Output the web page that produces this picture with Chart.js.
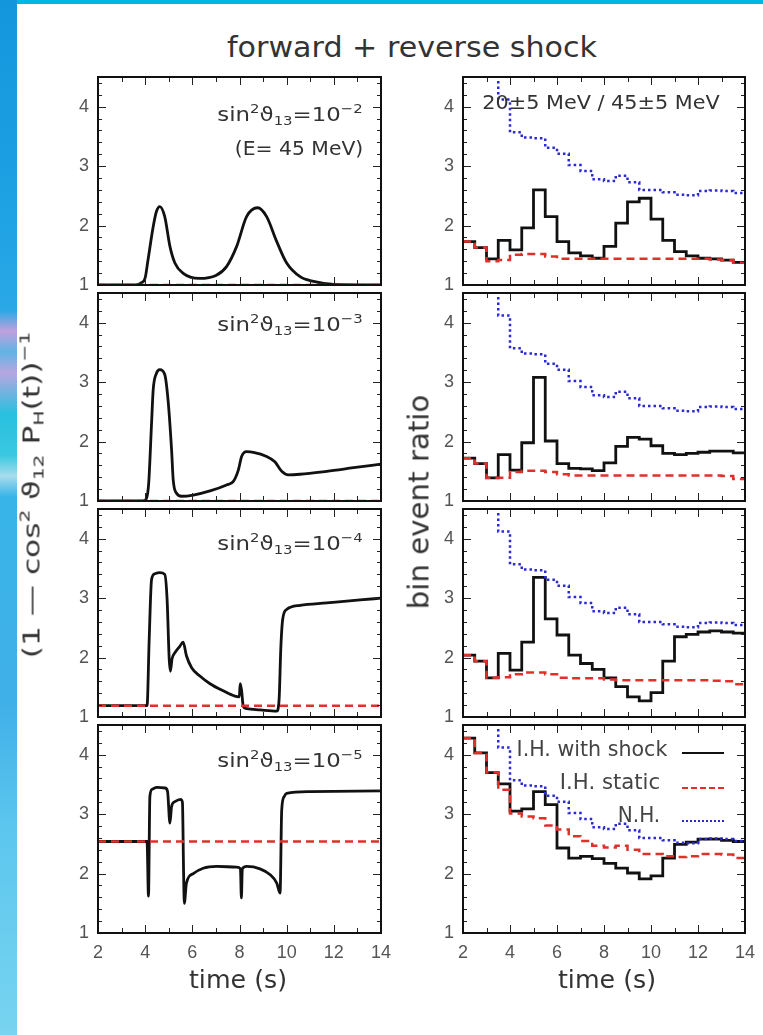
<!DOCTYPE html>
<html>
<head>
<meta charset="utf-8">
<script src="https://cdn.jsdelivr.net/npm/chart.js@4"></script>
<style>
  html, body { margin: 0; padding: 0; background: #fff; }
  #page { position: relative; width: 763px; height: 1035px; overflow: hidden; background: #fff;
          font-family: "DejaVu Sans", "Liberation Sans", sans-serif; color: #333; }
  #topband { position: absolute; left: 0; top: 0; width: 763px; height: 4px; background: #00b6e2; }
  #strip { position: absolute; left: 0; top: 0; width: 17px; height: 1035px;
    background: linear-gradient(to bottom, #1496dc 0%, #1ea2e4 20%, #2aa8e6 30%, #c0a0dc 32%, #60b4e4 34%,
      #b8a6e0 36%, #28c0e0 40%, #3ac8e0 44%, #a8dcec 46%, #38b4e8 48%, #40b0e8 68%, #5cc6ee 80%, #78d4f0 100%); }
  canvas { position: absolute; }
  .fit { position: absolute; white-space: nowrap; line-height: 1; transform: translate(-50%, -50%); }
  .fit sup { font-size: 0.65em; vertical-align: 0.65em; line-height: 0; }
  .fit sub { font-size: 0.65em; vertical-align: -0.3em; line-height: 0; }
  .sample { position: absolute; width: 42px; height: 0; }
</style>
</head>
<body>
<div id="page">
  <div id="topband"></div>
  <div id="strip"></div>

  <div class="fit" data-w="370" style="left:412px; top:48px; font-size:28px; color:#333;">forward + reverse shock</div>

  <canvas id="l1" width="370" height="232" style="left:30px; top:65px;"></canvas>
  <canvas id="l2" width="370" height="232" style="left:30px; top:281px;"></canvas>
  <canvas id="l3" width="370" height="232" style="left:30px; top:497px;"></canvas>
  <canvas id="l4" width="370" height="264" style="left:30px; top:713px;"></canvas>
  <canvas id="r1" width="370" height="232" style="left:393px; top:65px;"></canvas>
  <canvas id="r2" width="370" height="232" style="left:393px; top:281px;"></canvas>
  <canvas id="r3" width="370" height="232" style="left:393px; top:497px;"></canvas>
  <canvas id="r4" width="370" height="264" style="left:393px; top:713px;"></canvas>

  <div class="fit" data-w="145" style="left:290px; top:114px; font-size:20px;">sin<sup>2</sup>ϑ<sub>13</sub>=10<sup>−2</sup></div>
  <div class="fit" data-w="128" style="left:299px; top:148px; font-size:20px;">(E= 45 MeV)</div>
  <div class="fit" data-w="145" style="left:290px; top:324px; font-size:20px;">sin<sup>2</sup>ϑ<sub>13</sub>=10<sup>−3</sup></div>
  <div class="fit" data-w="145" style="left:290px; top:543px; font-size:20px;">sin<sup>2</sup>ϑ<sub>13</sub>=10<sup>−4</sup></div>
  <div class="fit" data-w="145" style="left:290px; top:760px; font-size:20px;">sin<sup>2</sup>ϑ<sub>13</sub>=10<sup>−5</sup></div>
  <div class="fit" data-w="238" style="left:601px; top:102px; font-size:20px;">20±5 MeV / 45±5 MeV</div>

  <div class="fit" data-w="151" style="left:592px; top:749px; font-size:21px; color:#444;">I.H. with shock</div>
  <div class="fit" data-w="100" style="left:610px; top:782px; font-size:21px; color:#444;">I.H. static</div>
  <div class="fit" data-w="42" style="left:639px; top:815px; font-size:21px; color:#444;">N.H.</div>
  <div class="sample" style="left:682px; top:752px; border-top:2.5px solid #111;"></div>
  <div class="sample" style="left:682px; top:787px; border-top:2.5px dashed #e0302a;"></div>
  <div class="sample" style="left:682px; top:820px; border-top:2.5px dotted #2a2ad0;"></div>

  <div class="fit" data-w="326" data-rot="-90" style="left:32px; top:495px; font-size:23px;">(1 — cos<sup>2</sup> ϑ<sub>12</sub> P<sub>H</sub>(t))<sup>−1</sup></div>
  <div class="fit" data-w="215" data-rot="-90" style="left:419px; top:502px; font-size:29px;">bin event ratio</div>

  <div class="fit" data-w="98" style="left:238px; top:980px; font-size:24px;">time (s)</div>
  <div class="fit" data-w="98" style="left:607px; top:980px; font-size:24px;">time (s)</div>
</div>

<script>
// time bins of the histograms (left edges, 0.5 s wide), last edge at 14 s
const binStart = [2, 2.5, 3, 3.5, 4, 4.5, 5, 5.5, 6, 6.5, 7, 7.5, 8, 8.5, 9, 9.5, 10, 10.5, 11, 11.5, 12, 12.5, 13, 13.5];
const binEnd = 14;

// right column: bin event ratio, 20±5 MeV / 45±5 MeV
const shock1 = [1.73, 1.63, 1.44, 1.75, 1.59, 1.96, 2.60, 2.15, 1.73, 1.54, 1.49, 1.45, 1.65, 2.04, 2.40, 2.46, 2.11, 1.75, 1.56, 1.49, 1.45, 1.44, 1.42, 1.38];
const static1 = [1.73, 1.63, 1.40, 1.42, 1.51, 1.52, 1.52, 1.48, 1.44, 1.44, 1.44, 1.44, 1.44, 1.44, 1.44, 1.44, 1.44, 1.44, 1.44, 1.44, 1.44, 1.43, 1.42, 1.38];
const shock2 = [1.72, 1.63, 1.39, 1.78, 1.52, 1.98, 3.08, 2.01, 1.63, 1.55, 1.54, 1.51, 1.64, 1.92, 2.07, 2.04, 1.93, 1.80, 1.78, 1.80, 1.82, 1.84, 1.84, 1.81];
const static2 = [1.72, 1.63, 1.39, 1.39, 1.49, 1.51, 1.51, 1.49, 1.45, 1.43, 1.43, 1.43, 1.43, 1.43, 1.43, 1.43, 1.43, 1.43, 1.43, 1.43, 1.43, 1.43, 1.42, 1.37];
const shock3 = [2.04, 1.94, 1.66, 2.07, 1.79, 2.26, 3.35, 2.65, 2.38, 2.04, 1.90, 1.80, 1.66, 1.51, 1.34, 1.27, 1.41, 1.94, 2.35, 2.39, 2.43, 2.45, 2.43, 2.41];
const static3 = [2.04, 1.94, 1.66, 1.67, 1.72, 1.75, 1.75, 1.72, 1.66, 1.65, 1.65, 1.65, 1.63, 1.62, 1.62, 1.62, 1.62, 1.62, 1.62, 1.62, 1.62, 1.61, 1.60, 1.55];
const shock4 = [4.28, 4.03, 3.70, 3.51, 3.05, 3.09, 3.38, 3.16, 2.43, 2.26, 2.29, 2.25, 2.17, 2.09, 2.01, 1.91, 1.96, 2.26, 2.49, 2.53, 2.58, 2.58, 2.56, 2.54];
const static4 = [4.28, 4.03, 3.70, 3.41, 3.01, 2.96, 2.93, 2.81, 2.74, 2.63, 2.55, 2.47, 2.44, 2.47, 2.40, 2.33, 2.33, 2.29, 2.28, 2.29, 2.33, 2.33, 2.32, 2.26];
// normal hierarchy is the same in every panel (first bins are off scale)
const normalH = [5.6, 5.2, 4.8, 4.12, 3.57, 3.48, 3.47, 3.31, 3.21, 3.02, 2.92, 2.78, 2.75, 2.84, 2.73, 2.60, 2.60, 2.56, 2.52, 2.51, 2.58, 2.59, 2.58, 2.55];

// left column: (1 - cos^2 theta12 P_H(t))^-1 at E = 45 MeV
const p1T = [2, 3.6, 3.85, 4.0, 4.12, 4.34, 4.48, 4.62, 4.83, 5.05, 5.26, 5.6, 6.3, 7.0, 7.45, 7.88, 8.3, 8.77, 9.15, 9.58, 10.0, 10.57, 11.14, 12, 14];
const p1Y = [1.0, 1.0, 1.04, 1.12, 1.42, 1.98, 2.24, 2.32, 2.15, 1.65, 1.37, 1.2, 1.11, 1.16, 1.31, 1.65, 2.15, 2.3, 2.15, 1.73, 1.37, 1.14, 1.06, 1.01, 1.0];
const p2T = [2, 3.9, 4.05, 4.15, 4.27, 4.34, 4.48, 4.62, 4.83, 4.97, 5.12, 5.19, 5.33, 5.54, 6.04, 6.75, 7.45, 7.74, 7.95, 8.09, 8.3, 8.59, 9.15, 9.5, 9.79, 10.07, 10.57, 11.7, 12.84, 14];
const p2Y = [1.0, 1.0, 1.04, 1.3, 2.3, 2.87, 3.15, 3.21, 3.13, 2.7, 1.86, 1.35, 1.13, 1.08, 1.10, 1.17, 1.27, 1.33, 1.52, 1.75, 1.83, 1.82, 1.75, 1.66, 1.5, 1.44, 1.45, 1.5, 1.56, 1.62];
const p3T = [2, 4.08, 4.17, 4.27, 4.41, 4.62, 4.83, 4.93, 5.02, 5.07, 5.14, 5.26, 5.47, 5.61, 5.75, 5.97, 6.32, 6.75, 7.31, 7.81, 7.99, 8.03, 8.09, 8.16, 8.3, 8.87, 9.58, 9.68, 9.75, 9.83, 10.0, 10.57, 11.7, 13.12, 14];
const p3Y = [1.19, 1.19, 2.3, 3.31, 3.41, 3.43, 3.4, 2.98, 1.97, 1.77, 1.98, 2.08, 2.19, 2.26, 2.03, 1.83, 1.69, 1.56, 1.44, 1.35, 1.34, 1.56, 1.44, 1.18, 1.14, 1.12, 1.10, 1.3, 2.14, 2.64, 2.81, 2.88, 2.92, 2.97, 3.0];
const p4T = [2, 4.08, 4.14, 4.2, 4.3, 4.5, 4.85, 4.95, 5.05, 5.12, 5.26, 5.5, 5.58, 5.63, 5.66, 5.75, 6.04, 6.46, 7.03, 7.88, 8.04, 8.08, 8.12, 8.3, 8.87, 9.3, 9.58, 9.72, 9.79, 9.9, 10.0, 11.0, 14];
const p4Y = [2.54, 2.54, 1.62, 3.3, 3.42, 3.45, 3.44, 3.38, 2.85, 3.13, 3.21, 3.25, 3.2, 2.0, 1.5, 1.84, 2.0, 2.09, 2.12, 2.11, 2.08, 1.59, 2.08, 2.12, 2.08, 1.98, 1.84, 1.67, 3.07, 3.3, 3.35, 3.38, 3.39];
// static (no shock) level of each left panel
const staticLevel = [1.0, 1.0, 1.19, 2.54];

const BLACK = "#111";
const RED = "#e0302a";
const BLUE = "#2a2ad0";

function curve(ts, ys) {
  return ts.map((t, i) => ({ x: t, y: ys[i] }));
}
function hist(vals) {
  const pts = binStart.map((t, i) => ({ x: t, y: vals[i] }));
  pts.push({ x: binEnd, y: vals[vals.length - 1] });
  return pts;
}
function flat(v) {
  return [{ x: 2, y: v }, { x: 14, y: v }];
}

// ROOT-like frame with inward ticks on all four sides
const frameTicks = {
  id: "frameTicks",
  afterDatasetsDraw(chart) {
    const { ctx, chartArea: a, scales } = chart;
    const x = scales.x, y = scales.y;
    ctx.save();
    ctx.strokeStyle = "#222";
    ctx.lineWidth = 1;
    ctx.beginPath();
    for (let t = 2; t <= 14; t++) {
      const px = Math.round(x.getPixelForValue(t)) + 0.5;
      const len = t % 2 === 0 ? 8 : 5;
      ctx.moveTo(px, a.bottom); ctx.lineTo(px, a.bottom - len);
      ctx.moveTo(px, a.top); ctx.lineTo(px, a.top + len);
    }
    for (let i = 0; i <= 17; i++) {
      const py = Math.round(y.getPixelForValue(1 + i * 0.2)) + 0.5;
      const len = i % 5 === 0 ? 8 : 4;
      ctx.moveTo(a.left, py); ctx.lineTo(a.left + len, py);
      ctx.moveTo(a.right, py); ctx.lineTo(a.right - len, py);
    }
    ctx.stroke();
    ctx.lineWidth = 2;
    ctx.strokeStyle = "#111";
    ctx.strokeRect(a.left, a.top, a.right - a.left, a.bottom - a.top);
    ctx.restore();
  }
};

function makePanel(id, datasets, showX, yWidth, padRight) {
  return new Chart(document.getElementById(id), {
    type: "line",
    data: { datasets },
    options: {
      responsive: false,
      animation: false,
      layout: { padding: { top: 12, bottom: showX ? 0 : 12, left: 0, right: padRight } },
      plugins: { legend: { display: false }, tooltip: { enabled: false } },
      elements: { point: { radius: 0 } },
      scales: {
        x: {
          type: "linear", min: 2, max: 14, display: showX,
          grid: { display: false, drawTicks: false }, border: { display: false },
          ticks: { stepSize: 2, padding: 9, color: "#555", font: { family: "Liberation Sans", size: 18 } },
          afterFit: (s) => {
            if (showX) s.height = 44;
            s.paddingLeft = 0; s.paddingRight = 0;
          }
        },
        y: {
          type: "linear", min: 1, max: 4.5,
          grid: { display: false, drawTicks: false }, border: { display: false },
          ticks: { stepSize: 1, includeBounds: false, padding: 9, color: "#555", font: { family: "Liberation Sans", size: 18 } },
          afterFit: (s) => { s.width = yWidth; s.paddingTop = 0; s.paddingBottom = 0; }
        }
      }
    },
    plugins: [frameTicks]
  });
}

function leftSets(ts, ys, level) {
  return [
    { data: flat(level), borderColor: RED, borderWidth: 2.5, borderDash: [8, 5], order: 1 },
    { data: curve(ts, ys), borderColor: BLACK, borderWidth: 2.8, cubicInterpolationMode: "monotone", order: 2 }
  ];
}
function rightSets(shock, stat) {
  return [
    { data: hist(normalH), borderColor: BLUE, borderWidth: 2.5, borderDash: [2.5, 3], stepped: true, order: 0 },
    { data: hist(stat), borderColor: RED, borderWidth: 2.5, borderDash: [8, 5], stepped: true, order: 1 },
    { data: hist(shock), borderColor: BLACK, borderWidth: 2.8, stepped: true, order: 2 }
  ];
}

makePanel("l1", leftSets(p1T, p1Y, staticLevel[0]), false, 68, 19);
makePanel("l2", leftSets(p2T, p2Y, staticLevel[1]), false, 68, 19);
makePanel("l3", leftSets(p3T, p3Y, staticLevel[2]), false, 68, 19);
makePanel("l4", leftSets(p4T, p4Y, staticLevel[3]), true, 68, 19);
makePanel("r1", rightSets(shock1, static1), false, 70, 18);
makePanel("r2", rightSets(shock2, static2), false, 70, 18);
makePanel("r3", rightSets(shock3, static3), false, 70, 18);
makePanel("r4", rightSets(shock4, static4), true, 70, 18);

// stretch each text along its run to the width it has in the figure
document.querySelectorAll(".fit").forEach((el) => {
  const k = Number(el.dataset.w) / el.offsetWidth;
  const rot = el.dataset.rot || 0;
  el.style.transform = "translate(-50%, -50%) rotate(" + rot + "deg) scaleX(" + k.toFixed(3) + ")";
});
</script>
</body>
</html>
